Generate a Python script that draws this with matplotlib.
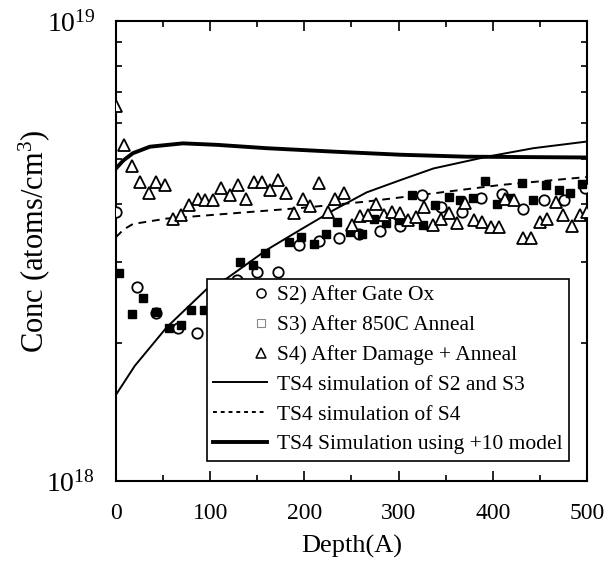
import matplotlib
matplotlib.use("Agg")
import matplotlib.pyplot as plt
from matplotlib.lines import Line2D
from matplotlib.legend_handler import HandlerLine2D
from matplotlib.ticker import LogLocator, FixedLocator, LogFormatterMathtext

plt.rcParams['font.family'] = ['Liberation Serif', 'DejaVu Serif']
plt.rcParams['mathtext.fontset'] = 'custom'
plt.rcParams['mathtext.rm'] = 'Liberation Serif'
plt.rcParams['mathtext.it'] = 'Liberation Serif:italic'

# S2) After Gate Ox (circles)
s2_depth = [0, 22, 43, 66, 86, 128, 150, 172, 194, 216, 237, 258, 280, 302,
            325, 345, 367, 388, 410, 432, 454, 476, 498]
s2_conc = [3.85, 2.64, 2.32, 2.15, 2.10, 2.73, 2.85, 2.85, 3.26, 3.33, 3.37, 3.45,
           3.50, 3.59, 4.19, 3.94, 3.85, 4.12, 4.20, 3.90, 4.08, 4.08, 4.33]

# S3) After 850C Anneal (filled squares)
s3_depth = [3, 17, 29, 43, 56, 69, 80, 93, 132, 145, 158, 184, 196, 210, 223, 235,
            248, 261, 274, 287, 300, 314, 326, 339, 353, 365, 379, 392, 404, 417,
            431, 443, 457, 470, 482, 495]
s3_conc = [2.83, 2.31, 2.50, 2.33, 2.15, 2.18, 2.35, 2.35, 3.00, 2.95, 3.13, 3.30,
           3.40, 3.27, 3.45, 3.66, 3.47, 3.45, 3.71, 3.64, 3.69, 4.19, 3.60, 3.98,
           4.15, 4.08, 4.12, 4.48, 4.01, 4.12, 4.45, 4.08, 4.40, 4.29, 4.23, 4.42]

# S4) After Damage + Anneal (triangles)
s4_depth = [0, 8, 17, 26, 35, 43, 52, 61, 69, 78, 87, 95, 103, 112, 121, 129, 138,
            147, 155, 164, 172, 181, 189, 198, 206, 216, 225, 233, 242, 251, 259,
            267, 276, 285, 293, 302, 310, 319, 327, 336, 345, 354, 362, 371, 380,
            389, 398, 407, 413, 422, 432, 441, 450, 458, 467, 475, 484, 493, 500]
s4_conc = [6.53, 5.37, 4.84, 4.47, 4.23, 4.47, 4.40, 3.72, 3.79, 3.98, 4.10, 4.08,
           4.08, 4.33, 4.19, 4.40, 4.10, 4.47, 4.47, 4.29, 4.51, 4.23, 3.82, 4.11,
           3.96, 4.44, 3.85, 4.11, 4.22, 3.61, 3.77, 3.79, 4.01, 3.79, 3.85, 3.83,
           3.69, 3.75, 3.94, 3.60, 3.72, 3.82, 3.63, 4.03, 3.69, 3.66, 3.57, 3.56,
           4.10, 4.08, 3.38, 3.38, 3.66, 3.72, 4.05, 3.79, 3.58, 3.79, 3.85]

# TS4 simulation of S2 and S3 (thin solid)
sim23_depth = [0, 20, 54, 96, 118, 160, 195, 231, 266, 302, 337, 394, 443, 500]
sim23_conc = [1.54, 1.78, 2.16, 2.61, 2.76, 3.18, 3.51, 3.88, 4.24, 4.51, 4.78,
              5.07, 5.29, 5.47]

# TS4 simulation of S4 (dashed)
sim4_depth = [0, 8, 18, 54, 125, 195, 266, 337, 408, 500]
sim4_conc = [3.39, 3.52, 3.62, 3.72, 3.82, 3.92, 4.05, 4.22, 4.40, 4.58]

# TS4 Simulation using +10 model (thick solid)
sim10_depth = [0, 8, 18, 36, 71, 107, 160, 231, 302, 372, 500]
sim10_conc = [4.78, 4.98, 5.16, 5.33, 5.42, 5.38, 5.29, 5.20, 5.12, 5.07, 5.05]


def e18(vals):
    return [v * 1e18 for v in vals]


class RightMarker(HandlerLine2D):
    # put legend markers at the right end of the handle box
    def get_xdata(self, legend, xdescent, ydescent, width, height, fontsize):
        x = [-xdescent + width * 0.9]
        return x, x


fig = plt.figure(figsize=(6.16, 5.66), dpi=100)
ax = fig.add_axes([0.1883, 0.1502, 0.7646, 0.8127])

ax.plot(s2_depth, e18(s2_conc), 'o', mfc='white', mec='black', mew=1.3, ms=7.5,
        linestyle='none', zorder=3)
ax.plot(s3_depth, e18(s3_conc), 's', mfc='black', mec='black', ms=5.5,
        linestyle='none', zorder=3)
ax.plot(s4_depth, e18(s4_conc), '^', mfc='white', mec='black', mew=1.3, ms=8.5,
        linestyle='none', zorder=3)
ax.plot(sim23_depth, e18(sim23_conc), '-', color='black', lw=1.4)
ax.plot(sim4_depth, e18(sim4_conc), '--', color='black', lw=1.4, dashes=(4, 3))
ax.plot(sim10_depth, e18(sim10_conc), '-', color='black', lw=2.8)

ax.set_yscale('log')
ax.set_xlim(0, 500)
ax.set_ylim(1e18, 1e19)

ax.xaxis.set_major_locator(FixedLocator([0, 100, 200, 300, 400, 500]))
ax.xaxis.set_minor_locator(FixedLocator([50, 150, 250, 350, 450]))
ax.yaxis.set_major_locator(LogLocator(base=10, numticks=3))
ax.yaxis.set_major_formatter(LogFormatterMathtext())
ax.yaxis.set_minor_locator(LogLocator(base=10, subs=range(2, 10), numticks=12))
ax.yaxis.set_minor_formatter(plt.NullFormatter())

ax.tick_params(which='both', direction='in', top=True, right=True, width=1.2)
ax.tick_params(axis='x', which='both', pad=16, labelsize=17)
ax.tick_params(axis='y', which='both', pad=15, labelsize=20)
ax.tick_params(which='major', length=7)
ax.tick_params(which='minor', length=4)
for s in ax.spines.values():
    s.set_linewidth(1.5)

ax.set_xlabel('Depth(A)', fontsize=19, labelpad=8)
ax.set_ylabel('Conc (atoms/cm$^3$)', fontsize=22)
ax.yaxis.set_label_coords(-0.135, 0.52)

handles = [
    Line2D([], [], marker='o', mfc='white', mec='black', ms=6.5, mew=1.1, ls='none'),
    Line2D([], [], marker='s', mfc='white', mec='#888888', ms=5.5, mew=0.8, ls='none'),
    Line2D([], [], marker='^', mfc='white', mec='black', ms=7.5, mew=1.1, ls='none'),
    Line2D([], [], color='black', lw=1.4),
    Line2D([], [], color='black', lw=1.4, ls='--', dashes=(2, 2)),
    Line2D([], [], color='black', lw=2.8),
]
labels = ['S2) After Gate Ox', 'S3) After 850C Anneal', 'S4) After Damage + Anneal',
          'TS4 simulation of S2 and S3', 'TS4 simulation of S4',
          'TS4 Simulation using +10 model']
hmap = {h: RightMarker() for h in handles[:3]}
leg = ax.legend(handles, labels, loc='upper right', bbox_to_anchor=(0.9618, 0.439),
                borderaxespad=0, fontsize=15.5, frameon=True, fancybox=False,
                handlelength=2.5, handletextpad=0.47, labelspacing=0.45,
                borderpad=0.3, handler_map=hmap)
leg.get_frame().set_edgecolor('black')
leg.get_frame().set_linewidth(1.2)
leg.get_frame().set_alpha(1)

fig.savefig('out.png', dpi=100)
